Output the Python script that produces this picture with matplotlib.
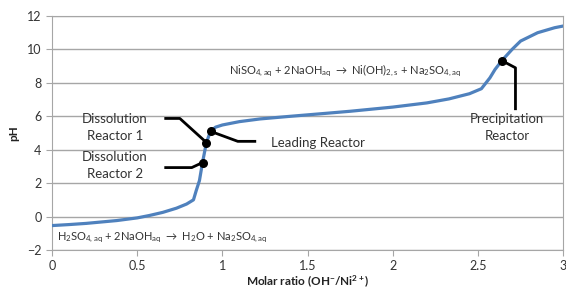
import numpy as np
import matplotlib.pyplot as plt

plt.rcParams['font.family'] = ['Lato', 'DejaVu Sans']
plt.rcParams['mathtext.default'] = 'regular'

# titration curve
ratio = [0.0, 0.1, 0.2, 0.38, 0.5, 0.57, 0.65, 0.73, 0.79, 0.83, 0.846, 0.865, 0.883,
         0.906, 0.93, 0.96, 1.0, 1.1, 1.22, 1.4, 1.6, 1.75, 2.0, 2.2, 2.33, 2.45, 2.52,
         2.57, 2.6, 2.64, 2.7, 2.75, 2.85, 2.95, 3.0]
ph = [-0.54, -0.48, -0.41, -0.24, -0.08, 0.06, 0.25, 0.5, 0.75, 1.0, 1.55, 2.15, 3.23,
      4.43, 5.1, 5.35, 5.48, 5.68, 5.84, 6.0, 6.17, 6.3, 6.55, 6.8, 7.04, 7.35, 7.65,
      8.3, 8.8, 9.33, 10.0, 10.5, 11.0, 11.3, 11.4]

# reactor points
pts_x = [0.906, 0.93, 0.883, 2.64]
pts_y = [4.43, 5.1, 3.23, 9.33]

blue = '#4f81bd'
fig, ax = plt.subplots(figsize=(5.66, 2.91), dpi=100)
fig.subplots_adjust(left=0.092, right=0.995, bottom=0.141, top=0.945)

ax.plot(ratio, ph, color=blue, lw=2.3, zorder=3)
ax.scatter(pts_x, pts_y, s=30, color='black', zorder=5)

# leader lines
lk = dict(color='black', lw=2.0, zorder=4)
ax.plot([0.667, 0.75, 0.906], [5.87, 5.87, 4.43], **lk)
ax.plot([0.93, 1.09, 1.19], [5.1, 4.5, 4.5], **lk)
ax.plot([0.667, 0.82, 0.883], [2.93, 2.93, 3.23], **lk)
ax.plot([2.64, 2.72, 2.72], [9.33, 8.9, 6.45], **lk)

tc = '#333333'
ax.text(0.37, 5.35, 'Dissolution\nReactor 1', ha='center', va='center', fontsize=9.5,
        color=tc, linespacing=1.5)
ax.text(0.37, 3.05, 'Dissolution\nReactor 2', ha='center', va='center', fontsize=9.5,
        color=tc, linespacing=1.5)
ax.text(1.56, 4.4, 'Leading Reactor', ha='center', va='center', fontsize=9.5, color=tc)
ax.text(2.67, 5.35, 'Precipitation\nReactor', ha='center', va='center', fontsize=9.5,
        color=tc, linespacing=1.5)
ax.text(1.04, 8.75, r'NiSO$_{4,aq}$ + 2NaOH$_{aq}$ $\rightarrow$ Ni(OH)$_{2,s}$ + Na$_2$SO$_{4,aq}$',
        ha='left', va='center', fontsize=8, color=tc)
ax.text(0.03, -1.25, r'H$_2$SO$_{4,aq}$ + 2NaOH$_{aq}$ $\rightarrow$ H$_2$O + Na$_2$SO$_{4,aq}$',
        ha='left', va='center', fontsize=8, color=tc)

ax.set_xlim(0, 3)
ax.set_ylim(-2, 12)
ax.set_xticks([0, 0.5, 1, 1.5, 2, 2.5, 3])
ax.set_xticklabels(['0', '0.5', '1', '1.5', '2', '2.5', '3'])
ax.set_yticks(range(-2, 13, 2))
ax.yaxis.grid(True, color='#a6a6a6', lw=1)
ax.set_axisbelow(True)
for s in ax.spines.values():
    s.set_color('#a6a6a6')
ax.tick_params(colors='#a6a6a6', labelcolor='#333333', labelsize=9, length=4)
ax.set_xlabel('Molar ratio (OH$^{-}$/Ni$^{2+}$)', fontsize=8.5, fontweight='bold', color='#222222',
              labelpad=1)
ax.set_ylabel('pH', fontsize=8.5, fontweight='bold', color='#222222', labelpad=6)

fig.savefig('out.png')
